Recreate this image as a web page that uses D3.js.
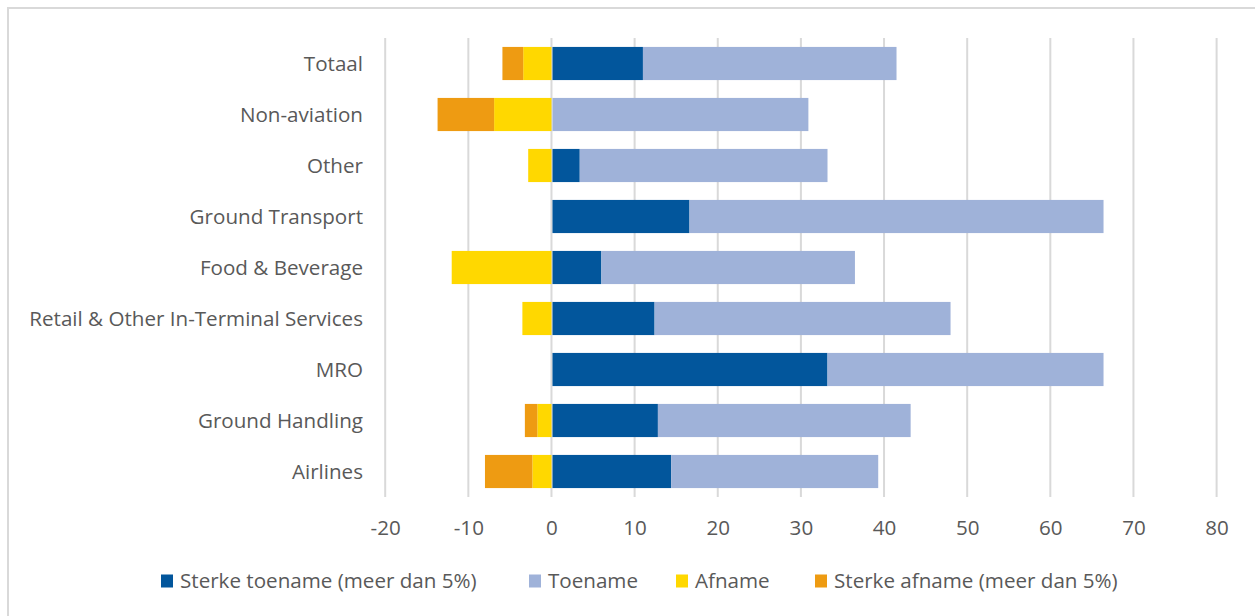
<!DOCTYPE html>
<html>
<head>
<meta charset="utf-8">
<script src="https://cdn.jsdelivr.net/npm/d3@7"></script>
<style>
  html, body { margin: 0; padding: 0; background: #fff; }
  svg { display: block; }
  text { font-family: "Open Sans", "Noto Sans", sans-serif; fill: #595959; }
</style>
</head>
<body>
<svg id="chart" width="1255" height="616"></svg>
<script>
// Categories, top to bottom
const categories = [
  "Totaal", "Non-aviation", "Other", "Ground Transport", "Food & Beverage",
  "Retail & Other In-Terminal Services", "MRO", "Ground Handling", "Airlines"
];

// Percentages per category (shares of respondents)
const sterkeToename = [11.0, 0.0, 3.4, 16.6, 6.0, 12.4, 33.2, 12.8, 14.4];
const toename       = [30.5, 30.9, 29.8, 49.8, 30.5, 35.6, 33.2, 30.4, 24.9];
const afname        = [3.4, 6.9, 2.8, 0.0, 12.0, 3.5, 0.0, 1.7, 2.3];
const sterkeAfname  = [2.5, 6.8, 0.0, 0.0, 0.0, 0.0, 0.0, 1.5, 5.7];

const xTicks = [-20, -10, 0, 10, 20, 30, 40, 50, 60, 70, 80];

const seriesNames = [
  "Sterke toename (meer dan 5%)", "Toename", "Afname", "Sterke afname (meer dan 5%)"
];
const seriesColors = ["#02569C", "#9FB2D9", "#FFD800", "#EE9B12"];

const FONT = 20.6;
const svg = d3.select("#chart");

// outer chart frame
svg.append("rect")
  .attr("x", 8).attr("y", 8)
  .attr("width", 1260).attr("height", 620)
  .attr("fill", "none").attr("stroke", "#d9d9d9").attr("stroke-width", 2);

const x = d3.scaleLinear().domain([-20, 80]).range([385.2, 1216.6]);
const y = d3.scaleBand().domain(categories).range([38, 497]).paddingInner(0.35).paddingOuter(0.175);

// vertical gridlines
svg.append("g").selectAll("line")
  .data(xTicks)
  .join("line")
  .attr("x1", d => x(d)).attr("x2", d => x(d))
  .attr("y1", 38).attr("y2", 497)
  .attr("stroke", "#d9d9d9").attr("stroke-width", 2);

// build stacked segments: positives outward to the right, negatives outward to the left
const segments = [];
categories.forEach((c, i) => {
  const st = sterkeToename[i], t = toename[i], a = afname[i], sa = sterkeAfname[i];
  segments.push({ cat: c, s: 0, x0: 0, x1: st });
  segments.push({ cat: c, s: 1, x0: st, x1: st + t });
  segments.push({ cat: c, s: 2, x0: -a, x1: 0 });
  segments.push({ cat: c, s: 3, x0: -a - sa, x1: -a });
});

svg.append("g").selectAll("rect")
  .data(segments.filter(d => d.x1 - d.x0 > 0))
  .join("rect")
  .attr("x", d => x(d.x0) + (d.x0 === 0 ? 1 : 0))
  .attr("width", d => x(d.x1) - x(d.x0) - (d.x0 === 0 ? 1 : 0))
  .attr("y", d => y(d.cat))
  .attr("height", y.bandwidth())
  .attr("fill", d => seriesColors[d.s]);

// category labels
svg.append("g").selectAll("text")
  .data(categories)
  .join("text")
  .attr("x", 363)
  .attr("y", d => y(d) + y.bandwidth() / 2)
  .attr("dy", "0.35em")
  .attr("text-anchor", "end")
  .attr("font-size", FONT)
  .text(d => d);

// x axis tick labels (plain hyphen for negatives)
const xAxis = d3.axisBottom(x).tickValues(xTicks).tickSize(0).tickPadding(0)
  .tickFormat(d => String(d));
const ax = svg.append("g").attr("transform", "translate(0,520)").call(xAxis);
ax.select(".domain").remove();
ax.selectAll("text")
  .attr("font-size", FONT)
  .attr("font-family", "'Open Sans', sans-serif")
  .attr("fill", "#595959")
  .attr("dy", "0.35em").attr("y", 8);

// legend
const legendX = [161, 529, 676, 815];
const lg = svg.append("g").selectAll("g")
  .data(seriesNames)
  .join("g")
  .attr("transform", (d, i) => `translate(${legendX[i]},581)`);
lg.append("rect").attr("x", 0).attr("y", -6.5).attr("width", 12).attr("height", 13)
  .attr("fill", (d, i) => seriesColors[i]);
lg.append("text").attr("x", 19).attr("dy", "0.35em").attr("font-size", FONT).text(d => d);
</script>
</body>
</html>
